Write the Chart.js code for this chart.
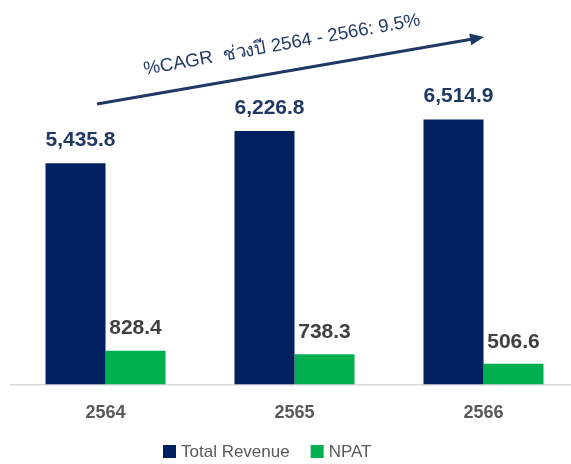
<!DOCTYPE html>
<html>
<head>
<meta charset="utf-8">
<script src="https://cdn.jsdelivr.net/npm/chart.js@4.4.1/dist/chart.umd.min.js"></script>
<style>
html,body{margin:0;padding:0;background:#fff;overflow:hidden;width:571px;height:464px;}
#wrap{width:580px;height:464px;}
</style>
</head>
<body>
<div id="wrap"><canvas id="c" width="580" height="464"></canvas></div>
<script>
const years = ["2564", "2565", "2566"];
const totalRevenue = [5435.8, 6226.8, 6514.9];
const npat = [828.4, 738.3, 506.6];
const seriesNames = ["Total Revenue", "NPAT"];
const cagrText = "%CAGR  ช่วงปี 2564 - 2566: 9.5%";

const NAVY = "#002060";
const GREEN = "#00B050";
const LABEL_NAVY = "#1F3864";

const fmt = v => v.toLocaleString("en-US", {minimumFractionDigits: 1, maximumFractionDigits: 1});

const labelPlugin = {
  id: "valueLabels",
  afterDatasetsDraw(chart) {
    const ctx = chart.ctx;
    ctx.save();
    ctx.textAlign = "center";
    ctx.textBaseline = "middle";
    ctx.font = "bold 21px 'Liberation Sans', Arial, sans-serif";
    chart.getDatasetMeta(0).data.forEach((el, i) => {
      ctx.fillStyle = LABEL_NAVY;
      ctx.fillText(fmt(totalRevenue[i]), el.x + 5, el.y - 23);
    });
    chart.getDatasetMeta(1).data.forEach((el, i) => {
      ctx.fillStyle = "#404040";
      ctx.fillText(fmt(npat[i]), el.x, el.y - 22);
    });
    ctx.restore();
  }
};

const arrowPlugin = {
  id: "cagrArrow",
  afterDraw(chart) {
    const ctx = chart.ctx;
    const x0 = 97, y0 = 104, x1 = 484, y1 = 37;
    const ang = Math.atan2(y1 - y0, x1 - x0);
    ctx.save();
    ctx.strokeStyle = LABEL_NAVY;
    ctx.fillStyle = LABEL_NAVY;
    ctx.lineWidth = 3.2;
    ctx.beginPath();
    ctx.moveTo(x0, y0);
    ctx.lineTo(x1 - 10 * Math.cos(ang), y1 - 10 * Math.sin(ang));
    ctx.stroke();
    ctx.translate(x1, y1);
    ctx.rotate(ang);
    ctx.beginPath();
    ctx.moveTo(0, 0);
    ctx.lineTo(-14, -6);
    ctx.lineTo(-14, 6);
    ctx.closePath();
    ctx.fill();
    ctx.restore();

    ctx.save();
    ctx.translate(282, 45);
    ctx.rotate(-10.2 * Math.PI / 180);
    ctx.fillStyle = LABEL_NAVY;
    ctx.font = "18.5px 'Liberation Sans', Arial, sans-serif";
    ctx.textAlign = "center";
    ctx.textBaseline = "middle";
    ctx.fillText(cagrText, 0, 0);
    ctx.restore();
  }
};

const legendPlugin = {
  id: "customLegend",
  afterDraw(chart) {
    const ctx = chart.ctx;
    ctx.save();
    ctx.font = "17px 'Liberation Sans', Arial, sans-serif";
    ctx.textBaseline = "middle";
    ctx.textAlign = "left";
    const colors = [NAVY, GREEN];
    let x = 163;
    const y = 452;
    seriesNames.forEach((name, i) => {
      ctx.fillStyle = colors[i];
      ctx.fillRect(x, y - 7, 13, 13);
      ctx.fillStyle = "#595959";
      ctx.fillText(name, x + 18, y);
      x += 18 + ctx.measureText(name).width + 21;
    });
    ctx.restore();
  }
};

new Chart(document.getElementById("c"), {
  type: "bar",
  data: {
    labels: years,
    datasets: [
      {label: seriesNames[0], data: totalRevenue, backgroundColor: NAVY, categoryPercentage: 0.635, barPercentage: 1.0},
      {label: seriesNames[1], data: npat, backgroundColor: GREEN, categoryPercentage: 0.635, barPercentage: 1.0}
    ]
  },
  options: {
    responsive: false,
    animation: false,
    layout: {padding: {left: 11, right: 2, top: 0, bottom: 22}},
    plugins: {legend: {display: false}, tooltip: {enabled: false}},
    scales: {
      x: {
        grid: {display: false, drawTicks: false},
        border: {display: true, color: "#D9D9D9", width: 1.5},
        ticks: {color: "#595959", font: {family: "'Liberation Sans', Arial, sans-serif", size: 18, weight: "bold"}, padding: 18}
      },
      y: {display: false, min: 0, max: 9450}
    }
  },
  plugins: [labelPlugin, arrowPlugin, legendPlugin]
});
</script>
</body>
</html>
